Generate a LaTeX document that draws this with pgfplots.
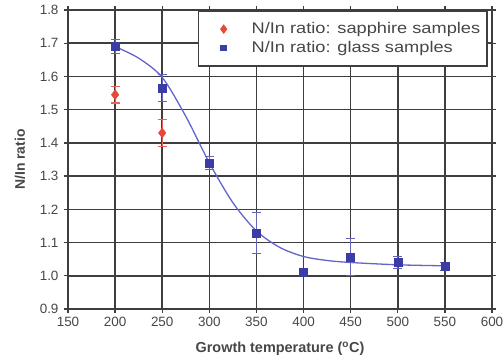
\documentclass[border=0pt]{standalone}
\usepackage{pgfplots}
\pgfplotsset{compat=1.18}
\usepackage{fontspec}
\setmainfont{Liberation Sans}
\newfontfamily\legfont[FakeStretch=1.18]{Liberation Sans}
\definecolor{sapph}{RGB}{232,72,58}
\definecolor{glass}{RGB}{60,60,165}
\definecolor{fitc}{RGB}{100,100,205}
\definecolor{gridc}{RGB}{62,62,62}
\pgfplotsset{
  sapphleg/.style={legend image code/.code={\path[draw=none,fill=none] (0bp,-3bp) rectangle (46bp,3bp); \draw[mark repeat=2, mark phase=2, ##1, mark size=3.5bp] plot coordinates {(0bp,0bp) (20bp,0bp) (46bp,0bp)};}},
  glassleg/.style={legend image code/.code={\path[draw=none,fill=none] (0bp,-3bp) rectangle (46bp,3bp); \draw[mark repeat=2, mark phase=2, ##1, mark size=2.5bp] plot coordinates {(0bp,0bp) (20bp,0bp) (46bp,0bp)};}},
}
\begin{document}
\begin{tikzpicture}
\begin{axis}[
  scale only axis,
  width=424bp, height=299bp,
  xmin=150, xmax=600, ymin=0.9, ymax=1.8,
  xtick={150,200,...,600},
  ytick={0.9,1.0,...,1.8},
  yticklabel style={xshift=-2bp, /pgf/number format/fixed, /pgf/number format/fixed zerofill, /pgf/number format/precision=1},
  /pgf/number format/assume math mode=true,
  tick label style={font=\fontsize{13.5}{15}\selectfont, text=black!72},
  xticklabel style={yshift=-1bp},
  xmajorgrids, ymajorgrids,
  major grid style={gridc, line width=1.6bp},
  axis line style={gridc, line width=1.8bp},
  tick style={gridc, line width=1.4bp},
  tick align=center,
  major tick length=8bp,
  xlabel={Growth temperature (\textsuperscript{o}C)},
  ylabel={N/In ratio},
  every axis x label/.style={at={(axis description cs:0.5,-0.1338)}, anchor=center,
     font=\bfseries\fontsize{14.5}{16}\selectfont, text=black!72},
  every axis y label/.style={at={(axis description cs:-0.113,0.5)}, rotate=90, anchor=center,
     font=\bfseries\fontsize{14}{16}\selectfont, text=black!72},
  legend style={at={(0.9906,1.0)}, anchor=north east, draw=gridc, line width=1.6bp,
     font=\legfont\fontsize{15.5}{17}\selectfont, text=black!72, fill=white, row sep=2bp,
     inner xsep=5bp, inner ysep=10bp},
  legend cell align=left,
]
\addplot[only marks, mark=diamond*, mark size=5bp, color=sapph, sapphleg,
  error bars/.cd, y dir=both, y explicit, error bar style={sapph!85, line width=1.2bp}, error mark options={rotate=90, sapph!85, mark size=4.5bp, line width=1.2bp}]
  coordinates {(200,1.545) +- (0,0.025) (250,1.43) +- (0,0.04)};
\addlegendentry{N/In ratio: sapphire samples}
\addplot[only marks, mark=square*, mark size=4bp, color=glass, glassleg,
  error bars/.cd, y dir=both, y explicit, error bar style={glass!80, line width=1.2bp}, error mark options={rotate=90, glass!80, mark size=4.5bp, line width=1.2bp}]
  coordinates {(200,1.69) +- (0,0.02) (250,1.565) +- (0,0.04) (300,1.34) +- (0,0.02)
   (350,1.128) +- (0,0.062) (400,1.012) +- (0,0.01) (450,1.057) +- (0,0.055)
   (500,1.04) +- (0,0.018) (550,1.028) +- (0,0.012)};
\addlegendentry{N/In ratio: glass samples}
\addplot[fitc, line width=1.3bp, smooth, tension=0.5, forget plot] coordinates {
 (200,1.69) (225,1.655) (250,1.597) (275,1.48) (300,1.34) (325,1.22) (350,1.135)
 (375,1.085) (400,1.058) (425,1.046) (450,1.04) (500,1.033) (550,1.03)};
\end{axis}
\pgfresetboundingbox
\path[use as bounding box] ([xshift=-68bp,yshift=-53bp]current axis.south west) rectangle ([xshift=12bp,yshift=10bp]current axis.north east);
\end{tikzpicture}
\end{document}
